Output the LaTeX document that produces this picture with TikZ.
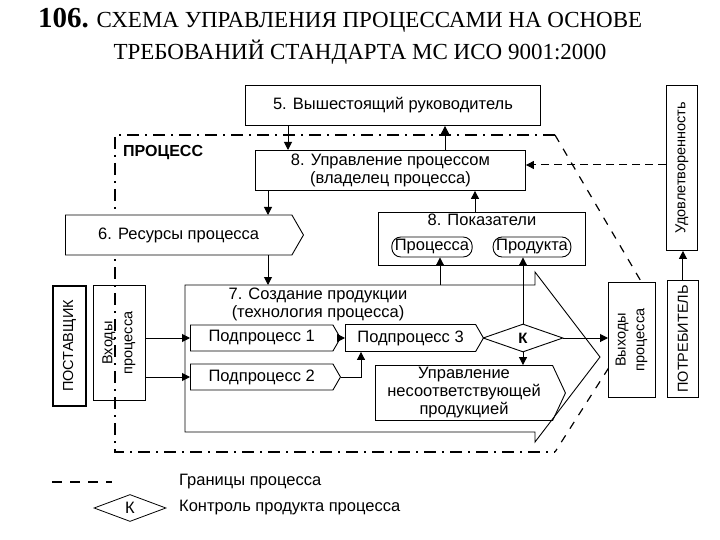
\documentclass[tikz,border=0pt]{standalone}
\usepackage{fontspec}
\setmainfont{Liberation Sans}
\newfontfamily\serifx{Liberation Serif}
\usetikzlibrary{shapes.geometric,shapes.symbols,arrows.meta}
\begin{document}
\begin{tikzpicture}[x=1pt,y=-1pt,
  every node/.style={font=\fontsize{16.5}{18}\selectfont, inner sep=1pt},
  box/.style={draw, line width=0.9pt, minimum width=#1, anchor=north west, align=center},
  arr/.style={-{Triangle[length=8pt,width=8pt]}, line width=1pt},
  bound/.style={line width=1.2pt, dash pattern=on 12pt off 6pt on 2pt off 6pt},
  rot/.style={rotate=90, font=\fontsize{14.5}{16}\selectfont},
  sig/.style={draw, line width=0.9pt, signal, signal to=east, signal pointer angle=120, align=center, anchor=west, inner xsep=3pt}]
\useasboundingbox (0,0) rectangle (720,540);
% title
\node[anchor=base west, font=\serifx\fontsize{23}{25}\selectfont, inner sep=0pt] (t1) at (38,28) {{\fontsize{29}{30}\selectfont\bfseries 106.} СХЕМА УПРАВЛЕНИЯ ПРОЦЕССАМИ НА ОСНОВЕ};
\node[anchor=base, font=\serifx\fontsize{23}{25}\selectfont] (t2) at (360,60) {ТРЕБОВАНИЙ СТАНДАРТА МС ИСО 9001:2000};
% boundary
\draw[bound] (555,135) -- (115,135) -- (115,452) -- (555,452);
\draw[bound, dash pattern=on 8pt off 8pt] (555,135) -- (652,300) -- (555,452);
\node[anchor=west, font=\bfseries\fontsize{16}{18}\selectfont] (proc) at (122,153) {ПРОЦЕСС};
% boxes
\node[box=295pt, minimum height=40pt] (b5) at (245,85) {5. Вышестоящий руководитель};
\node[box=270pt, minimum height=40pt, fill=white] (b8) at (255,150) {8. Управление процессом\\(владелец процесса)};
\node[sig, minimum width=238pt, minimum height=40pt, fill=white] (res) at (65,235) {6. Ресурсы процесса};
\node[box=207pt, minimum height=53pt] (pk) at (378,212) {};
\node[anchor=north, inner sep=2pt] (pkt) at (pk.north) {8. Показатели};
\node[draw, rounded corners=9pt, line width=0.9pt, minimum height=20pt, inner xsep=3pt] (pp) at (432,247) {Процесса};
\node[draw, rounded corners=9pt, line width=0.9pt, minimum height=20pt, inner xsep=3pt] (pd) at (532,247) {Продукта};
% big box 7
\draw[line width=0.9pt, fill=white] (185,285) -- (535,285) -- (535,272) -- (600,357) -- (535,442) -- (535,432) -- (185,432) -- cycle;
\coordinate (b7top) at (268,285);
\node[align=center, anchor=north] (b7t) at (318,287) {7. Создание продукции\\(технология процесса)};
\node[sig, minimum width=150pt, minimum height=26pt] (s1) at (190,338) {Подпроцесс 1};
\node[sig, minimum width=150pt, minimum height=26pt] (s2) at (190,377) {Подпроцесс 2};
\node[sig, minimum width=138pt, minimum height=27pt] (s3) at (345,338) {Подпроцесс 3};
\node[draw, diamond, aspect=2.9, line width=0.9pt, minimum width=80pt, minimum height=28pt, inner sep=0pt, font=\bfseries\fontsize{15}{16}\selectfont] (k) at (523,338) {К};
\node[sig, minimum width=190pt, minimum height=55pt, signal pointer angle=130] (up) at (375,393) {Управление\\несоответствующей\\продукцией};
% side boxes
\node[box=52pt, minimum height=115pt] (in) at (93,285) {};
\node[rot] (in1) at ([xshift=-10.5pt]in.center) {Входы};
\node[rot] (in2) at ([xshift=10.5pt]in.center) {процесса};
\node[box=33pt, minimum height=120pt, line width=1.8pt] (sup) at (52,285) {};
\node[rot] (supt) at (sup.center) {ПОСТАВЩИК};
\node[box=47pt, minimum height=115pt, fill=white] (out) at (608,282) {};
\node[rot] (out1) at ([xshift=-10pt]out.center) {Выходы};
\node[rot] (out2) at ([xshift=10pt]out.center) {процесса};
\node[box=31pt, minimum height=117pt] (cons) at (667,280) {};
\node[rot] (const) at (cons.center) {ПОТРЕБИТЕЛЬ};
\node[box=31pt, minimum height=165pt] (sat) at (666,85) {};
\node[rot] (satt) at (sat.center) {Удовлетворенность};
% connectors
\draw[arr] (b5.south -| 288,0) -- (b8.north -| 288,0);
\draw[arr] (b8.north -| 445,0) -- (b5.south -| 445,0);
\draw[arr] (b8.south -| 268,0) -- (268,215);
\draw[arr] (268,255) -- (b7top);
\draw[arr] (pk.north -| 475,0) -- (b8.south -| 475,0);
\draw[arr] (440,285) -- (pp.south -| 440,0);
\draw[arr] (k.north) -- (pd.south -| k.north);
\draw[arr, dash pattern=on 8pt off 5pt] (sat.west |- 0,165) -- (b8.east |- 0,165);
\draw[arr] (cons.north) -- (sat.south -| cons.north);
\draw[arr] (in.east |- 0,338) -- (s1.west);
\draw[arr] (in.east |- 0,377) -- (s2.west);
\draw[arr] (s1.east) -- (s3.west);
\draw[arr] (s2.east) -- (361,377) -- (s3.south -| 361,0);
\draw[arr] (k.south) -- (up.north -| k.south);
\draw[arr] (k.east) -- (out.west |- k.east);
% legend
\draw[bound, dash pattern=on 10pt off 8pt] (52,482) -- (112,482);
\node[anchor=west] (l1) at (178,482) {Границы процесса};
\node[draw, diamond, aspect=2.7, line width=0.8pt, minimum width=72pt, minimum height=27pt, inner sep=0pt] (lk) at (130,508) {К};
\node[anchor=west] (l2) at (178,508) {Контроль продукта процесса};
\end{tikzpicture}
\end{document}
